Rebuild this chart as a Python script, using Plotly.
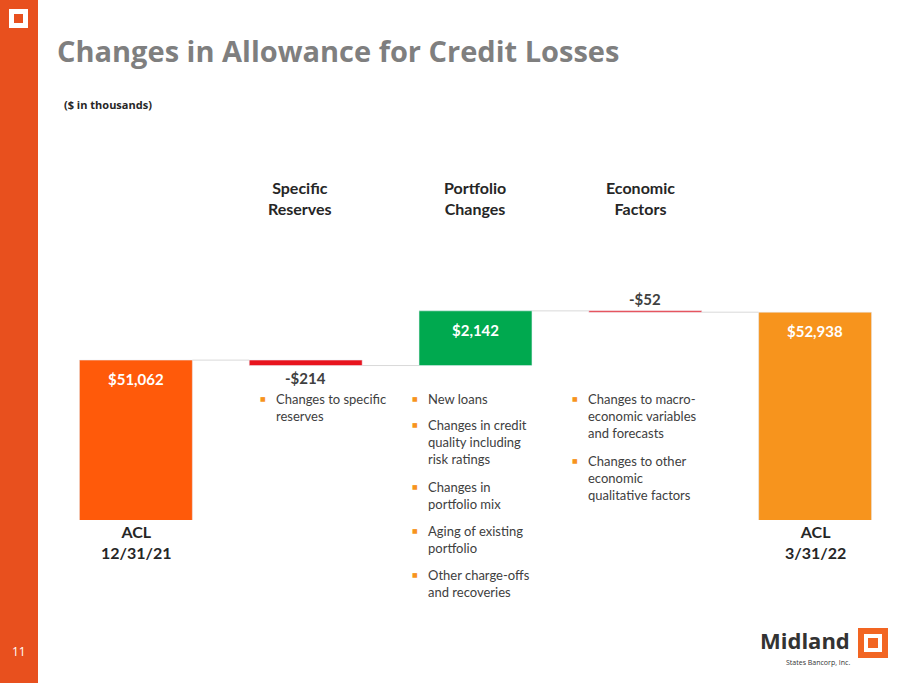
import plotly.graph_objects as go

categories = ["ACL<br>12/31/21", "Specific<br>Reserves", "Portfolio<br>Changes", "Economic<br>Factors", "ACL<br>3/31/22"]
values = [51062, -214, 2142, -52, 52938]
labels = ["$51,062", "-$214", "$2,142", "-$52", "$52,938"]
colors = ["#FF5a0a", "#E8141E", "#00A94F", "#E8141E", "#F7941D"]
kinds = ["total", "rel", "rel", "rel", "total"]

W, H = 911, 683
L, R, T, B = 51, 11, 234, 163
pw, ph = W - L - R, H - T - B
def px(x, y):
    return (x - L) / pw, (H - B - y) / ph

bases, heights, running = [], [], 0
for v, k in zip(values, kinds):
    if k == "total":
        bases.append(0); heights.append(v); running = v
    else:
        bases.append(running if v >= 0 else running + v); heights.append(abs(v)); running += v

xs = list(range(len(values)))
fig = go.Figure(go.Bar(x=xs, y=heights, base=bases, marker_color=colors, width=0.665,
                       hoverinfo="skip"))
ymin, ymax = 44800, 56000
fig.update_layout(width=W, height=H, margin=dict(l=L, r=R, t=T, b=B),
                  plot_bgcolor="white", paper_bgcolor="white", showlegend=False,
                  xaxis=dict(range=[-0.5, 4.5], visible=False),
                  yaxis=dict(range=[ymin, ymax], visible=False))

run = 0
tops = []
for v, k in zip(values, kinds):
    run = v if k == "total" else run + v
    tops.append(run)
for i in range(4):
    fig.add_shape(type="line", x0=i + 0.3325, x1=i + 1 - 0.3325, y0=tops[i], y1=tops[i],
                  line=dict(color="#d9d9d9", width=1))

fnt = "Lato"
for i in range(5):
    if values[i] < 0:
        yv = bases[i] + heights[i] if i == 3 else bases[i]
        fig.add_annotation(x=i, y=yv, text="<b>%s</b>" % labels[i], showarrow=False,
                           yanchor="bottom" if i == 3 else "top", yshift=1 if i == 3 else -1,
                           font=dict(family=fnt, size=15, color="#404040"))
    else:
        fig.add_annotation(x=i, y=bases[i] + heights[i], text="<b>%s</b>" % labels[i], showarrow=False,
                           yanchor="top", yshift=-8, font=dict(family=fnt, size=15, color="white"))

cat_pos = [(136, 520), (300, 176), (475, 176), (640, 176), (815, 520)]
for (x, y), c in zip(cat_pos, categories):
    a, b = px(x, y)
    fig.add_annotation(xref="paper", yref="paper", x=a, y=b, text="<b>%s</b>" % c, showarrow=False,
                       xanchor="center", yanchor="top", font=dict(family=fnt, size=16, color="#262626"))

bullets = [
    (258, ["Changes to specific<br>reserves"]),
    (410, ["New loans", "Changes in credit<br>quality including<br>risk ratings", "Changes in<br>portfolio mix",
           "Aging of existing<br>portfolio", "Other charge-offs<br>and recoveries"]),
    (570, ["Changes to macro-<br>economic variables<br>and forecasts", "Changes to other<br>economic<br>qualitative factors"]),
]
for x, items in bullets:
    y = 389
    for it in items:
        n = it.count("<br>") + 1
        a, b = px(x, y + 4)
        fig.add_annotation(xref="paper", yref="paper", x=a, y=b, text="■", showarrow=False,
                           xanchor="left", yanchor="top", font=dict(family="DejaVu Sans", size=6, color="#F7941D"))
        a, b = px(x + 16, y)
        fig.add_annotation(xref="paper", yref="paper", x=a, y=b, text=it, showarrow=False, align="left",
                           xanchor="left", yanchor="top", font=dict(family=fnt, size=13, color="#404040"))
        y += 18 * n + 8

fig.add_shape(type="rect", xref="paper", yref="paper", x0=px(0, 0)[0], x1=px(38, 0)[0],
              y0=px(0, 683)[1], y1=px(0, 0)[1], fillcolor="#E8501E", line_width=0, layer="below")
fig.add_shape(type="rect", xref="paper", yref="paper", x0=px(9, 0)[0], x1=px(28, 0)[0],
              y0=px(0, 28)[1], y1=px(0, 9)[1], fillcolor="white", line_width=0)
fig.add_shape(type="rect", xref="paper", yref="paper", x0=px(14, 0)[0], x1=px(23, 0)[0],
              y0=px(0, 23)[1], y1=px(0, 14)[1], fillcolor="#E8501E", line_width=0)
for x, y, t, s, c, anc, fam in [(55, 50, "<b>Changes in Allowance for Credit Losses</b>", 29, "#7f7f7f", "left", "Open Sans"),
                          (62, 104, "<b>($ in thousands)</b>", 11, "#262626", "left", "Open Sans"),
                          (19, 651, "11", 12, "white", "center", "Open Sans"),
                          (852, 640, "<b>Midland</b>", 22, "#333333", "right", "Open Sans"),
                          (852, 662, "States Bancorp, Inc.", 7, "#333333", "right", "Open Sans")]:
    a, b = px(x, y)
    fig.add_annotation(xref="paper", yref="paper", x=a, y=b, text=t, showarrow=False, xanchor=anc,
                       yanchor="middle", font=dict(family=fam, size=s, color=c))
fig.add_shape(type="rect", xref="paper", yref="paper", x0=px(858, 0)[0], x1=px(888, 0)[0],
              y0=px(0, 658)[1], y1=px(0, 628)[1], fillcolor="#F26522", line_width=0)
fig.add_shape(type="rect", xref="paper", yref="paper", x0=px(864, 0)[0], x1=px(882, 0)[0],
              y0=px(0, 652)[1], y1=px(0, 634)[1], fillcolor="white", line_width=0)
fig.add_shape(type="rect", xref="paper", yref="paper", x0=px(868, 0)[0], x1=px(878, 0)[0],
              y0=px(0, 648)[1], y1=px(0, 638)[1], fillcolor="#F26522", line_width=0)
fig.write_html("out.html", config={"displayModeBar": False},
               post_script="document.body.style.margin='0';document.body.style.overflow='hidden';")
